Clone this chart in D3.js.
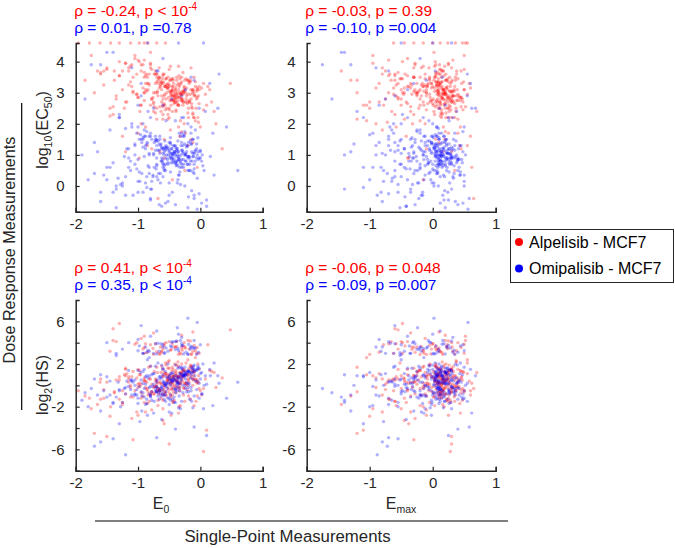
<!DOCTYPE html>
<html><head><meta charset="utf-8">
<script src="https://cdn.jsdelivr.net/npm/d3@7"></script>
<style>body{margin:0;background:#fff}svg{display:block}text{font-family:"Liberation Sans",Arial,sans-serif}</style>
</head><body><svg id="c" width="675" height="548"></svg>
<script>
// ---- Data (estimated) ----
const seriesNames = ["Alpelisib - MCF7", "Omipalisib - MCF7"];
const seriesColors = ["#ff0000", "#0000ff"];
// Alpelisib: single-point E0, Emax ; dose response log10(EC50), log2(HS)
const alpE0 = [
-1.96,-1.78,-1.61,-1.44,-1.3,-1.12,-.98,-.84,-.7,-.56,
-1.65,-1.38,-1.2,-1.02,-.9,.22,.35,.48,-.08,-1.5,
-.45,-.38,-.52,-.31,-.6,-.42,-.27,-.49,-.35,-.56,
-.41,-.22,-.66,-.47,-.33,-.18,-.54,-.4,-.29,-.72,
-.5,-.37,-.12,-.61,-.44,-.25,-.8,-.39,-.58,-.2,
-.46,-.31,-.69,-.14,-.53,-.36,-.85,-.43,-.24,-.63,
-.48,-.1,-.57,-.34,-.75,-.28,-.44,-.05,-.62,-.39,
-.92,-.47,-.3,-.55,-.16,-.7,-.42,-.26,-.51,-.98,
-.37,-.59,-.21,-.45,-.08,-.65,-.33,-.5,-.78,-.4,
-1.05,-.28,-.56,-.43,-.13,-.68,-.35,-.03,-.88,-.48,
-.32,-.6,-.19,-.46,-1.12,-.27,-.52,-.38,-.74,-.02,
-.44,-.66,-.23,-.54,-.36,-.95,-.11,-.49,-.3,-.58,
-.4,-.82,-.17,-.53,-.29,-.63,-1.2,-.45,-.06,-.35,
-.85,-.72,-.6,-.5,-.42,-.35,-.28,-.2,-.12,-.05,
-.8,-.66,-.55,-.47,-.38,-.31,-.24,-.16,-.08,-.02,
-.9,-.62,-.45,-.33,-.26,-.18,-.1,-.7,-.4,-.15,
-1.75,-1.55,-1.4,-1.25,-1.1,-.95,-.8,-.65,-.5,-.35,
-.2,-.05,.1,.25,-1.6,-1.3,-1.0,-.75,-.45,-.15,
-1.85,-1.45,-1.15,-.88,-.58,-.32,-.12,.05,.18,-.68,
-1.35,-1.08,-.78,-.52,-.25,-.9,-.6,-.3,.02,-1.7,
-.95,-.2,-.68,-1.15,-.4,.05,-.82,-.55,-1.3,-.12,
-.62,-1.02,-.3,-.75,.12,-.48,-1.4,-.9,-.25,-.58,
-.08,-.7,-1.08,-.36,-.86,-.18,-.64,-1.22,-.44,.08,
-.78,-.33,-1.5,-.6,-.15,-.97,-.52,-.27,-1.18,-.72,
-.4,-.88,-.1,-.66,-1.35,-.23,-.56,.15,-1.0,-.47,
-.6,-.2,-1.1,-.42,-.8,-.03,-.7,-.32,-1.25,-.5,
-.92,-.14,-.58,-1.45,-.38,-.76,-.06,-1.05,-.29,-.64,
-.45,-1.6,-.22,-.83,-.52,-.1,-.96,-.35,-.69,-1.2,
-.26,-.74,-.5,-1.02,-.16,-.6,-.88,-.41,-1.3,.0,
-.55,-.9,-.31,-.7,-.13,-1.15,-.47,-.8,-.21,-.63,
-1.0,-.38,-.72,-.05,-.57,-1.38,-.28,-.86,-.44,-.11,
-.67,-.18,-.95,-.5,-1.25,-.34,-.78,-.02,-.6,-.9,
-.24,-1.08,-.46,-.75,-.15,-.62,-1.55,-.39,-.84,-.3,
-.73,-.07,-.53,-1.12,-.36,-.9,-.19,-.66,-1.0,-.43,
-.58,-.26,-.85,-.12,-.48,-1.2,-.7,-.33,-.98,-.04];
const alpEmax = [
-.62,-.45,-.3,-.15,0,.12,.24,.36,.47,.55,
-1.45,-1.2,-.95,-.8,.52,.7,.45,-.55,-1.05,.3,
.08,.15,-.02,.2,.05,.12,.28,-.05,.18,.1,
.22,.03,.14,.32,-.1,.09,.25,.17,.01,.38,
.06,.19,.3,-.12,.13,.24,-.18,.11,.35,.07,
.16,-.07,.27,.04,.21,.42,-.2,.1,.33,.14,
.02,.26,.12,-.15,.2,.08,.4,.17,-.25,.29,
.11,-.3,.23,.06,.18,.36,-.08,.14,.45,.04,
.2,.09,-.04,.31,.15,-.35,.24,.07,.5,.13,
-.4,.18,.28,-.01,.1,.22,-.14,.34,.05,.16,
.25,.12,-.22,.19,.03,.3,-.45,.09,.21,.13,
.07,.4,.17,-.1,.26,.14,-.5,.2,.05,.32,
.15,-.6,.24,.11,.03,.37,-.28,.18,.08,.46,
-.85,-.7,-.55,-.4,-.25,-.1,.05,.2,.32,.45,
-.78,-.62,-.48,-.33,-.18,-.03,.1,.25,.38,.5,
-.3,-.15,0,.15,.3,.08,-.05,.12,.22,-.2,
-.95,-.75,-.6,-.42,-.28,-.12,.02,.16,.3,.44,
.55,.62,-1.1,-.9,-.68,-.48,.25,-.35,-.15,.05,
-1.3,-1.0,-.8,-.58,-.38,-.2,.1,.28,.48,.65,
-.5,-.3,-.1,.15,.35,-.7,-.45,.2,.6,-1.2,
.07,.36,-.58,.17,-.22,.48,-.08,.26,-.7,.13,
-.28,.4,.04,-1.0,.23,-.15,.52,-.48,.31,.0,
.15,-1.2,.34,-.18,.1,.44,-.38,.2,-.05,-.62,
.29,-.12,.11,-.5,.39,.02,-.3,.18,-.85,.58,
.08,-.35,.25,-.06,.42,-.52,.14,-.2,.32,.01,
-.4,.21,-.1,.47,.05,-.72,.3,-.25,.16,.37,
-.02,.35,-.44,.12,-.66,.24,-.14,.5,.06,-.33,
.26,-.55,.1,-.16,.4,.03,-1.05,.19,-.24,.3,
-.08,.45,.13,-.46,.22,-.3,.34,-.04,-.6,.17,
.09,.28,-.27,.38,.11,-.58,-.1,.25,-.4,.49,
.3,-.05,.15,-.35,.22,.45,-.2,.08,-.6,.35,
.12,-.42,.25,-.1,.5,.18,-.75,-.15,.28,.05,
.4,-.25,-.5,.2,-.3,.33,.1,-.65,.16,.55,
-.12,.24,-.9,.06,.38,-.45,.14,.27,-.55,-.02,
.19,-.32,.43,.03,-.8,.3,.09,.6,-.4,.21];
const alpEC50 = [
4.6,4.6,4.6,4.6,4.6,4.6,4.6,4.6,4.6,4.6,
3.7,3.4,3.95,3.6,4.6,2.4,1.2,3.3,2.1,3.8,
3.1,2.85,3.3,2.95,3.6,2.7,3.05,3.4,2.6,3.2,
2.9,3.15,3.5,2.75,3.0,3.35,2.5,3.1,2.8,3.7,
3.25,2.65,3.0,3.45,2.9,3.1,3.8,2.7,3.2,2.95,
2.8,3.3,3.05,2.55,3.15,2.85,3.5,3.0,2.7,3.35,
3.4,2.9,2.6,3.2,3.0,3.65,2.75,3.1,3.3,2.45,
3.9,3.05,2.8,3.25,2.95,3.5,2.65,3.15,2.85,4.0,
3.0,3.35,2.7,2.9,3.2,2.55,3.45,3.05,3.75,2.8,
4.1,2.95,3.2,2.75,3.1,3.4,2.6,2.9,3.55,3.0,
2.85,3.3,2.5,3.05,3.85,2.7,3.15,2.95,3.6,2.65,
3.2,3.45,2.8,3.0,2.6,3.7,3.1,2.75,3.35,2.9,
2.95,3.6,2.7,3.25,3.05,2.4,3.95,3.1,2.8,3.3,
3.3,3.0,2.8,3.2,2.9,3.1,2.7,3.4,3.05,2.85,
2.6,3.15,3.45,2.95,3.25,2.75,3.0,3.35,2.9,3.1,
3.5,2.7,3.2,2.85,3.05,3.3,2.95,3.6,3.15,2.8,
4.2,3.7,2.3,1.6,3.9,2.0,4.3,1.1,2.2,1.9,
1.3,.6,2.6,2.0,3.6,4.0,1.7,2.4,.2,1.5,
3.4,2.5,3.8,1.9,.9,2.1,1.4,3.3,2.7,-.4,
2.8,3.5,1.2,2.3,.5,4.05,2.15,1.75,3.15,3.0,
2.6,3.4,2.9,3.7,3.05,2.45,3.25,2.8,3.55,2.35,
3.1,2.95,3.5,2.7,3.2,3.85,2.55,3.0,3.4,2.65,
3.35,2.15,3.05,2.9,3.6,2.75,3.2,2.5,3.45,2.95,
2.8,3.25,3.75,2.6,3.1,2.4,3.5,3.0,2.7,3.3,
2.7,3.3,2.2,3.8,2.9,3.45,2.45,3.1,4.05,2.6,
3.55,2.35,3.2,2.8,3.9,2.05,3.35,2.95,3.7,2.5,
3.15,2.65,3.6,2.25,3.4,2.85,3.05,4.2,2.75,3.25,
2.4,3.65,2.9,3.3,2.15,3.5,2.6,3.85,3.0,2.7,
3.2,2.55,3.75,2.95,3.4,2.3,3.1,2.85,3.55,1.9,
3.45,2.75,3.0,3.6,2.5,3.25,2.9,3.95,2.65,3.35,
2.85,3.5,2.35,3.15,2.95,3.7,2.6,3.05,3.4,2.2,
3.3,2.7,3.9,2.45,3.1,3.55,2.8,3.2,2.55,3.65,
1.7,3.0,3.45,2.65,3.8,2.9,3.25,2.4,3.1,2.95,
3.6,2.5,3.15,3.35,2.75,3.0,2.2,3.5,2.85,3.3,
1.5,2.0,1.3,2.3,1.8,1.1,2.5,1.6,.9,2.2];
const alpHS = [
-.5,-1.2,.3,-2.0,.8,-.2,1.4,-.9,.5,2.1,
-1.8,-.6,.9,-2.5,4.6,1.2,.7,5.2,2.6,-4.8,
.3,.9,-.2,1.2,-.4,.6,1.5,.1,.8,-.6,
.5,1.1,-.5,.7,.2,1.6,.4,-.3,1.3,-.1,
1.0,.4,1.4,-.8,.2,.9,-.9,1.2,.0,.6,
-.4,1.0,.3,1.8,.5,-.1,-.3,.8,1.3,-1.2,
.6,1.2,-.6,.2,-.2,.9,1.5,.5,.1,-.7,
-1.0,.3,.7,1.1,1.9,-.5,.0,1.4,-.4,.2,
.4,-.9,1.0,.8,.6,.3,-.2,1.6,-.6,1.1,
-.5,.7,.1,-.6,1.3,-1.4,1.8,.9,.4,.2,
.1,.8,.5,1.3,-1.1,-.3,.6,.3,-.8,1.5,
1.0,-.3,.2,-1.0,.7,.1,.9,.5,2.0,-.2,
-.1,-1.5,1.1,.9,.4,-.5,-.8,1.7,.3,.8,
3.1,3.9,3.4,4.1,3.6,2.9,3.7,4.2,3.2,3.55,
3.8,3.0,4.0,3.35,3.65,2.95,3.5,4.15,3.25,3.0,
3.55,3.2,3.9,3.05,4.0,3.4,3.75,3.15,3.6,2.9,
-2.2,-.4,5.3,-1.6,-3.1,4.4,-.8,2.9,-5.5,-2.6,
2.4,.2,-4.2,-.2,-1.3,5.8,-2.8,4.9,-.1,1.8,
-1.0,-2.9,.6,3.9,-3.6,-1.9,5.0,-6.2,1.3,-.3,
4.1,-5.1,-2.3,2.2,-1.5,.5,-3.3,4.7,-.9,-4.5,
-.7,.9,-1.9,.3,1.4,-.3,.6,1.9,-1.3,.0,
3.1,4.0,3.5,2.9,3.8,3.3,4.2,3.0,3.6,3.9,
.5,1.7,-1.1,.8,-.4,1.4,.2,1.0,-1.6,.6,
-.6,1.2,.3,-2.2,.7,-.1,1.6,-.9,1.1,.4,
.9,-2.5,1.3,-.5,.5,2.1,-.8,1.4,.1,-1.1,
1.5,.0,.8,-1.4,1.8,.3,-.6,.9,-1.8,2.3,
3.4,2.95,3.7,3.2,4.1,3.45,3.0,3.85,3.3,3.6,
-.9,.6,.1,1.7,.4,-1.9,1.0,-.3,1.2,1.5,
.2,1.3,-.7,.7,-1.3,.9,-.2,2.0,.5,-.5,
1.1,-1.6,.4,-.1,1.6,.8,-2.8,.6,-.4,1.2,
-.2,1.9,.6,-1.0,1.0,-.7,1.4,.3,-1.5,.5,
-.8,.3,-1.2,.9,-.5,-2.0,.1,-.3,-1.4,.7,
.2,1.3,-.3,-.8,.9,1.8,-1.2,.5,-.6,1.1,
-.1,-1.5,.7,.0,2.2,.4,-1.0,-.4,1.5,.8,
1.2,-.2,-1.7,.6,-.9,1.6,.1,-.5,1.0,2.0];
// Omipalisib
const omiE0 = [
-1.75,-1.4,-1.1,-.85,-.6,-.35,-.15,.05,.3,-.95,
-1.85,-1.6,-1.3,.15,.28,.42,.6,-1.0,-.7,-1.5,
-.42,-.3,-.55,-.2,-.65,-.38,-.12,-.48,-.27,-.6,
-.35,-.08,-.72,-.44,-.25,-.15,-.58,-.4,-.32,-.8,
-.52,-.36,-.05,-.68,-.46,-.22,-.9,-.3,-.62,-.18,
-.43,-.28,-.75,-.1,-.5,-.34,-.95,-.45,-.2,-.66,
-.5,-.02,-.6,-.37,-.82,-.26,-.47,-.14,-.7,-.33,
-1.0,-.41,-.23,-.57,-.11,-.78,-.39,-.29,-.53,-1.1,
-.31,-.63,-.17,-.49,-.06,-.71,-.36,-.44,-.86,-.24,
-1.2,-.19,-.59,-.4,-.09,-.74,-.3,0,-.92,-.51,
-.27,-.64,-.16,-.48,-1.25,-.21,-.56,-.34,-.8,.04,
-.46,-.7,-.13,-.58,-.33,-1.02,-.04,-.52,-.25,-.62,
-.38,-.88,-.1,-.55,-.24,-.67,-1.35,-.42,.02,-.31,
-.88,-.75,-.63,-.52,-.44,-.36,-.27,-.19,-.1,-.03,
-.82,-.68,-.57,-.48,-.4,-.32,-.23,-.14,-.06,0,
-.92,-.6,-.46,-.35,-.28,-.2,-.12,-.72,-.38,-.16,
-1.8,-1.6,-1.45,-1.3,-1.15,-1.0,-.85,-.7,-.55,-.4,
-.25,-.1,.08,.2,-1.7,-1.35,-1.05,-.8,-.5,-.2,
-1.9,-1.5,-1.2,-.92,-.62,-.37,-.15,.1,.22,-.75,
-1.4,-1.12,-.82,-.56,-.3,-.97,-.65,-.35,-.05,-1.65,
-.5,-.92,-.18,-1.2,-.38,.02,-.72,-.6,-1.05,-.26,
-.84,-.3,-1.35,-.46,-.1,-.66,-.98,-.2,-.55,-1.5,
-.06,-.78,-.4,-1.12,-.28,-.62,.1,-.88,-.34,-.7,
-1.0,-.15,-.58,-1.28,-.44,-.82,-.04,-.52,-1.6,-.24,
-.36,-.94,-.12,-.68,-1.18,-.3,-.56,.16,-.8,-.48,
-.74,-.22,-1.08,-.42,-.9,.06,-.64,-.35,-1.4,-.52,
-.16,-.86,-.6,-1.25,-.4,-.7,-.08,-1.0,-.3,-.58,
-.45,-1.7,-.2,-.8,-.54,-.12,-.96,-.37,-.66,-1.15,
-.28,-.76,-.48,-1.05,-.14,-.62,-.9,-.4,-1.32,.03,
-.56,-.86,-.32,-.72,-.1,-1.1,-.46,-.82,-.19,-.6,
-.98,-.36,-.7,-.02,-.55,-1.45,-.25,-.88,-.42,-.08,
-.65,-.2,-.94,-.48,-1.22,-.32,-.76,.0,-.58,-.86,
-.22,-1.02,-.44,-.78,-.12,-.6,-1.55,-.38,-.8,-.27,
-.7,-.05,-.5,-1.15,-.34,-.92,-.17,-.64,-1.05,-.4,
-.6,-.24,-.84,-.1,-.46,-1.3,-.68,-.3,-.95,-.02];
const omiEmax = [
-1.75,-1.4,-.9,-.5,-.2,0,.15,.3,.55,-.6,
-1.6,-1.3,-1.1,.6,.68,.5,.4,-.85,-.7,-1.45,
.05,.12,-.08,.18,-.02,.1,.24,-.12,.15,.02,
.2,-.05,.1,.3,-.15,.06,.22,.13,-.03,.35,
.03,.16,.28,-.18,.09,.21,-.25,.08,.32,.04,
.12,-.12,.24,0,.18,.4,-.28,.07,.3,.1,
-.02,.23,.08,-.2,.16,.04,.38,.13,-.32,.26,
.07,-.38,.2,.02,.14,.33,-.12,.1,.42,0,
.17,.05,-.08,.28,.11,-.42,.2,.03,.48,.09,
-.5,.14,.25,-.06,.06,.19,-.2,.31,.01,.12,
.22,.08,-.28,.15,-.01,.27,-.55,.05,.18,.1,
.03,.37,.13,-.15,.23,.1,-.6,.16,.01,.29,
.11,-.7,.2,.07,-.02,.34,-.35,.14,.04,.43,
-.9,-.75,-.6,-.45,-.3,-.15,0,.15,.28,.4,
-.82,-.67,-.52,-.37,-.22,-.07,.08,.22,.35,.48,
-.35,-.2,-.05,.1,.25,.04,-.1,.18,.3,-.25,
-1.0,-.8,-.65,-.48,-.32,-.16,-.02,.12,.26,.4,
.5,.58,-1.2,-.95,-.72,-.52,.22,-.4,-.18,.02,
-1.4,-1.1,-.88,-.62,-.42,-.24,.06,.25,.44,.62,
-.55,-.34,-.14,.12,.32,-.78,-.5,.17,.56,-1.3,
-.22,.3,-.6,.09,-.38,.48,-.05,.19,-.9,.07,
.34,-.28,.02,-.8,.16,-.18,.44,-.5,.23,-.03,
.13,-1.4,.29,-.24,.06,.39,-.42,.17,-.12,-.7,
.25,-.2,.08,-.55,.35,-.06,-.33,.14,-.82,.52,
.04,-.3,.21,-.14,.41,-.62,.12,-.26,.3,-.02,
-.45,.18,-.16,.46,.0,-.78,.27,-.3,.1,.36,
-.08,.32,-.5,.09,-.7,.2,-.2,.5,.05,-.36,
.24,-.6,.07,-.22,.38,-.04,-1.0,.15,-.28,.27,
-.12,.43,.1,-.52,.19,-.34,.31,-.06,-.64,.12,
.06,.26,-.32,.35,.08,-.68,-.14,.22,-.44,.47,
.1,-.4,.3,-.7,.15,.42,-.25,.02,-.55,.28,
-.3,.2,-.85,.08,.36,-.12,-.6,.24,.05,-1.1,
.45,-.2,.12,-.65,.22,-.08,.5,-.45,.18,-.15,
-.5,.33,-.02,-.95,.14,-.35,.4,.06,-1.25,.26,
.2,-.4,.38,-.1,-.75,.25,.04,.55,-.3,.11];
const omiEC50 = [
3.9,4.3,3.8,4.6,4.1,4.6,3.5,4.6,3.6,2.9,
2.8,3.9,2.2,3.3,2.5,1.9,.5,2.6,3.7,4.3,
1.1,.85,1.3,.95,1.6,.7,1.05,1.4,.6,1.2,
.9,1.15,1.5,.75,1.0,1.35,.5,1.1,.8,1.7,
1.25,.65,1.0,1.45,.9,1.1,1.8,.7,1.2,.95,
.8,1.3,1.05,.55,1.15,.85,1.5,1.0,.7,1.35,
1.4,.9,.6,1.2,1.0,1.65,.75,1.1,1.3,.45,
1.9,1.05,.8,1.25,.95,1.5,.65,1.15,.85,2.0,
1.0,1.35,.7,.9,1.2,.55,1.45,1.05,1.75,.8,
.3,.95,1.2,.75,1.1,1.4,.6,.9,1.55,1.0,
.85,1.3,.5,1.05,.1,.7,1.15,.95,1.6,.65,
1.2,1.45,.8,1.0,.6,1.7,1.1,.75,1.35,.9,
.95,1.6,.7,1.25,1.05,.4,-.1,1.1,.8,1.3,
1.3,1.0,.8,1.2,.9,1.1,.7,1.4,1.05,.85,
.6,1.15,1.45,.95,1.25,.75,1.0,1.35,.9,1.1,
1.5,.7,1.2,.85,1.05,1.3,.95,1.6,1.15,.8,
.2,-.5,1.8,2.3,.9,-.2,1.4,.3,2.1,-.6,
.0,-.4,2.4,1.7,.4,-.7,1.3,2.2,-.3,.5,
1.0,.6,-.3,2.0,-.65,.1,1.9,-.45,.35,2.5,
-.2,.8,1.6,-.55,2.2,.15,1.5,.35,-.75,1.1,
.1,1.25,.5,1.85,.8,-.55,1.45,.3,1.0,1.6,
.65,1.4,.0,1.05,-.3,1.15,.45,2.0,.9,.2,
1.35,-.1,1.0,.5,1.6,.8,-.65,1.2,.35,1.5,
.85,1.7,1.1,.05,1.3,.4,1.55,.7,-.2,1.0,
1.0,.4,1.5,.2,1.2,1.7,.7,.95,-.1,1.35,
.6,1.25,-.3,.85,1.6,.5,.1,1.1,.75,-.5,
1.45,.3,1.05,.0,1.3,.65,1.8,.15,1.15,.55,
-.2,1.4,.9,-.4,1.0,.45,1.65,.8,-.6,1.2,
1.1,.35,1.55,.7,-.15,1.25,.95,2.1,.25,1.0,
.5,1.35,.05,1.15,.4,1.9,.85,1.05,-.35,.75,
1.5,.2,.9,-.25,1.2,.6,1.75,.1,1.3,.8,
1.05,-.7,1.4,.45,.95,1.6,.3,1.15,.65,-.05,
1.3,.55,1.0,.15,1.5,.85,.35,1.2,-.45,2.2,
.7,.25,1.1,.6,1.7,-.2,.9,.4,1.35,.75,
2.6,3.1,2.4,3.4,2.8,2.2,3.7,2.9,3.3,2.5];
const omiHS = [
-.3,-1.6,.5,2.4,-.9,4.8,1.0,-2.2,.2,5.6,
-.7,-2.4,-3.6,1.5,.9,-1.2,.3,4.3,-4.9,-1.1,
.5,1.0,-.1,1.3,-.5,.4,1.6,.0,.9,-.7,
.2,1.4,-.6,.6,1.0,1.7,.3,-.4,1.1,-.9,
.7,.3,1.5,-1.0,.5,1.2,-1.1,.8,-.2,1.3,
-.3,.9,.1,1.9,.6,-.2,-.6,.4,1.4,-1.3,
.8,1.6,-.4,.3,-.8,1.0,.2,1.2,-.1,-.5,
-1.2,.5,1.1,.0,1.8,-.6,.7,1.5,-.3,-.9,
.6,-1.0,1.2,.9,1.4,-.2,.1,.4,-1.3,1.0,
-.8,1.3,.2,-.4,.9,-1.5,1.6,1.1,-.7,.3,
1.2,-.3,.7,.5,-1.6,1.0,.0,.8,-1.0,2.0,
.4,-.6,1.5,-.9,1.1,-.4,1.8,.2,.8,-.1,
-.2,-1.8,1.3,.1,.6,-.7,-1.1,.9,1.2,.5,
3.6,3.0,3.9,3.2,4.1,3.45,2.95,3.85,3.5,3.1,
3.2,3.95,3.05,3.7,3.35,4.2,3.1,3.65,2.9,3.8,
3.0,3.6,4.05,3.25,3.75,2.95,3.5,3.9,4.15,3.4,
-2.0,-5.3,.4,-.5,4.0,-1.7,-2.8,5.1,-.6,-4.1,
1.7,-3.9,.9,-1.9,-5.7,2.8,-.8,4.6,-2.5,6.3,
-1.4,.8,-6.5,3.0,-3.2,5.4,-.2,-4.7,2.1,-2.6,
-5.0,-.4,2.6,-1.5,4.5,-3.4,.6,-2.1,5.9,-.9,
-1.2,1.3,.1,-.2,.9,-.8,1.8,.4,-.9,1.0,
3.3,3.9,3.0,3.6,4.2,3.2,3.7,2.9,3.5,4.0,
-.4,1.0,-1.6,.5,-.7,1.9,.1,.8,-1.0,.3,
1.4,-.5,.2,-2.0,.7,-.2,1.6,-1.2,1.0,.0,
.6,-2.4,1.2,-.3,.4,1.7,-.9,.9,-.1,-1.4,
1.1,-.6,.3,-1.1,1.5,.0,-.8,.7,-1.7,2.0,
3.6,3.1,3.8,3.4,4.1,2.95,3.5,3.25,3.7,3.0,
-1.3,.6,-.2,1.8,.2,-2.1,1.2,-.5,.8,1.4,
.0,1.1,-.9,.5,-1.5,.7,-.3,1.9,.3,-.8,
1.3,-1.7,.2,-.4,1.5,.4,-2.6,.9,-.6,1.0,
-.1,1.6,.5,-1.2,.8,-.9,1.3,.1,-1.6,.4,
-.5,.2,-1.0,1.1,-.3,-2.2,-.1,.6,-1.3,.9,
.3,-.9,1.2,-1.4,.6,1.5,-.5,.1,-1.1,.9,
-.6,.4,-1.8,-.1,1.7,.2,-1.3,.8,.0,-.7,
1.6,-.3,.7,-1.0,1.1,-.4,2.1,-1.5,.5,.2];
const xTicks = [-2, -1, 0, 1];
const ec50Ticks = [0, 1, 2, 3, 4];
const hsTicks = [-6, -4, -2, 0, 2, 4, 6];
const hsTickLabels = [-6, -2, 2, 6];
const stats = {
  tl: [["ρ = -0.24, p < 10", "-4"], ["ρ = 0.01, p =0.78", ""]],
  tr: [["ρ = -0.03, p = 0.39", ""], ["ρ = -0.10, p =0.004", ""]],
  bl: [["ρ = 0.41, p < 10", "-4"], ["ρ = 0.35, p < 10", "-4"]],
  br: [["ρ = -0.06, p = 0.048", ""], ["ρ = -0.09, p =0.007", ""]]
};

// ---- Drawing ----
const svg = d3.select("#c");
const axCol = "#262626";
const series = [
  {e0: alpE0, emax: alpEmax, ec50: alpEC50, hs: alpHS, color: seriesColors[0]},
  {e0: omiE0, emax: omiEmax, ec50: omiEC50, hs: omiHS, color: seriesColors[1]}
];
const colsX = [[75.7, 262.7], [306.7, 495.7]];
const rowsY = [{range: [211.7, 43], domain: [-0.827, 4.6], key: "ec50", ticks: ec50Ticks, labels: ec50Ticks},
               {range: [470.7, 300], domain: [-8, 8], key: "hs", ticks: hsTicks, labels: hsTickLabels}];
const keys = ["e0", "emax"];
const statKeys = [["tl", "tr"], ["bl", "br"]];

rowsY.forEach((row, ri) => {
  colsX.forEach((cx, ci) => {
    const x = d3.scaleLinear().domain([-2, 1]).range(cx);
    const y = d3.scaleLinear().domain(row.domain).range(row.range);
    const g = svg.append("g");
    series.forEach(s => {
      const xs = s[keys[ci]], ys = s[row.key];
      g.append("g").selectAll("circle").data(d3.range(xs.length)).join("circle")
        .attr("cx", i => x(xs[i])).attr("cy", i => y(ys[i])).attr("r", 1.7)
        .attr("fill", s.color).attr("fill-opacity", 0.3);
    });
    const xa = g.append("g").attr("transform", `translate(0,${row.range[0]})`)
      .call(d3.axisBottom(x).tickValues(xTicks).tickSize(-4).tickFormat(d3.format("d")));
    const ya = g.append("g").attr("transform", `translate(${cx[0]},0)`)
      .call(d3.axisLeft(y).tickValues(row.ticks).tickSize(-4)
        .tickFormat(d => row.labels.includes(d) ? d3.format("d")(d) : ""));
    [xa, ya].forEach(a => {
      a.select(".domain").attr("stroke", axCol).attr("stroke-width", 1.5);
      a.selectAll(".tick line").attr("stroke", axCol).attr("stroke-width", 1.2);
      a.selectAll(".tick text").attr("fill", axCol).style("font-size", "15px")
        .text(function(){ return this.textContent.replace("−", "-"); });
    });
    xa.selectAll(".tick text").attr("y", 7);
    ya.selectAll(".tick text").attr("x", -11);
    const st = stats[statKeys[ri][ci]];
    const top = row.range[1];
    [[top - 27, seriesColors[0], st[0]], [top - 10, seriesColors[1], st[1]]].forEach(([by, col, t]) => {
      const tx = g.append("text").attr("x", cx[0] - 1.5).attr("y", by).attr("fill", col).style("font-size", "15.5px");
      tx.append("tspan").text(t[0]);
      if (t[1]) tx.append("tspan").attr("dy", -6.5).style("font-size", "10px").text(t[1]);
    });
  });
});

// y labels
const yl1 = svg.append("text").attr("transform", "translate(48,130) rotate(-90)").attr("text-anchor", "middle").attr("fill", axCol).style("font-size", "16px");
yl1.append("tspan").text("log");
yl1.append("tspan").attr("dy", 4).style("font-size", "10.5px").text("10");
yl1.append("tspan").attr("dy", -4).text("(EC");
yl1.append("tspan").attr("dy", 4).style("font-size", "10.5px").text("50");
yl1.append("tspan").attr("dy", -4).text(")");
const yl2 = svg.append("text").attr("transform", "translate(48,385) rotate(-90)").attr("text-anchor", "middle").attr("fill", axCol).style("font-size", "16px");
yl2.append("tspan").text("log");
yl2.append("tspan").attr("dy", 4).style("font-size", "10.5px").text("2");
yl2.append("tspan").attr("dy", -4).text("(HS)");

// x labels
const xl1 = svg.append("text").attr("x", 161).attr("y", 509).attr("text-anchor", "middle").attr("fill", axCol).style("font-size", "16px");
xl1.append("tspan").text("E");
xl1.append("tspan").attr("dy", 4).style("font-size", "10.5px").text("0");
const xl2 = svg.append("text").attr("x", 401).attr("y", 509).attr("text-anchor", "middle").attr("fill", axCol).style("font-size", "16px");
xl2.append("tspan").text("E");
xl2.append("tspan").attr("dy", 4).style("font-size", "10.5px").text("max");

// group labels
svg.append("line").attr("x1", 21.7).attr("x2", 21.7).attr("y1", 103).attr("y2", 410).attr("stroke", "#000").attr("stroke-width", 1.2);
svg.append("text").attr("transform", "translate(15,250) rotate(-90)").attr("text-anchor", "middle").attr("fill", axCol).style("font-size", "16.2px").text("Dose Response Measurements");
svg.append("line").attr("x1", 95).attr("x2", 508).attr("y1", 521).attr("y2", 521).attr("stroke", "#000").attr("stroke-width", 1.2);
svg.append("text").attr("x", 287.5).attr("y", 542).attr("text-anchor", "middle").attr("fill", axCol).style("font-size", "16.8px").text("Single-Point Measurements");

// legend
const lg = svg.append("g");
lg.append("rect").attr("x", 510.5).attr("y", 229.5).attr("width", 163).attr("height", 53).attr("fill", "#fff").attr("stroke", axCol).attr("stroke-width", 1);
seriesNames.forEach((n, i) => {
  const yy = 242 + i * 26.5;
  lg.append("circle").attr("cx", 519).attr("cy", yy).attr("r", 4).attr("fill", seriesColors[i]);
  lg.append("text").attr("x", 529).attr("y", yy + 5.5).attr("fill", "#000").style("font-size", "16px").text(n);
});
</script></body></html>
